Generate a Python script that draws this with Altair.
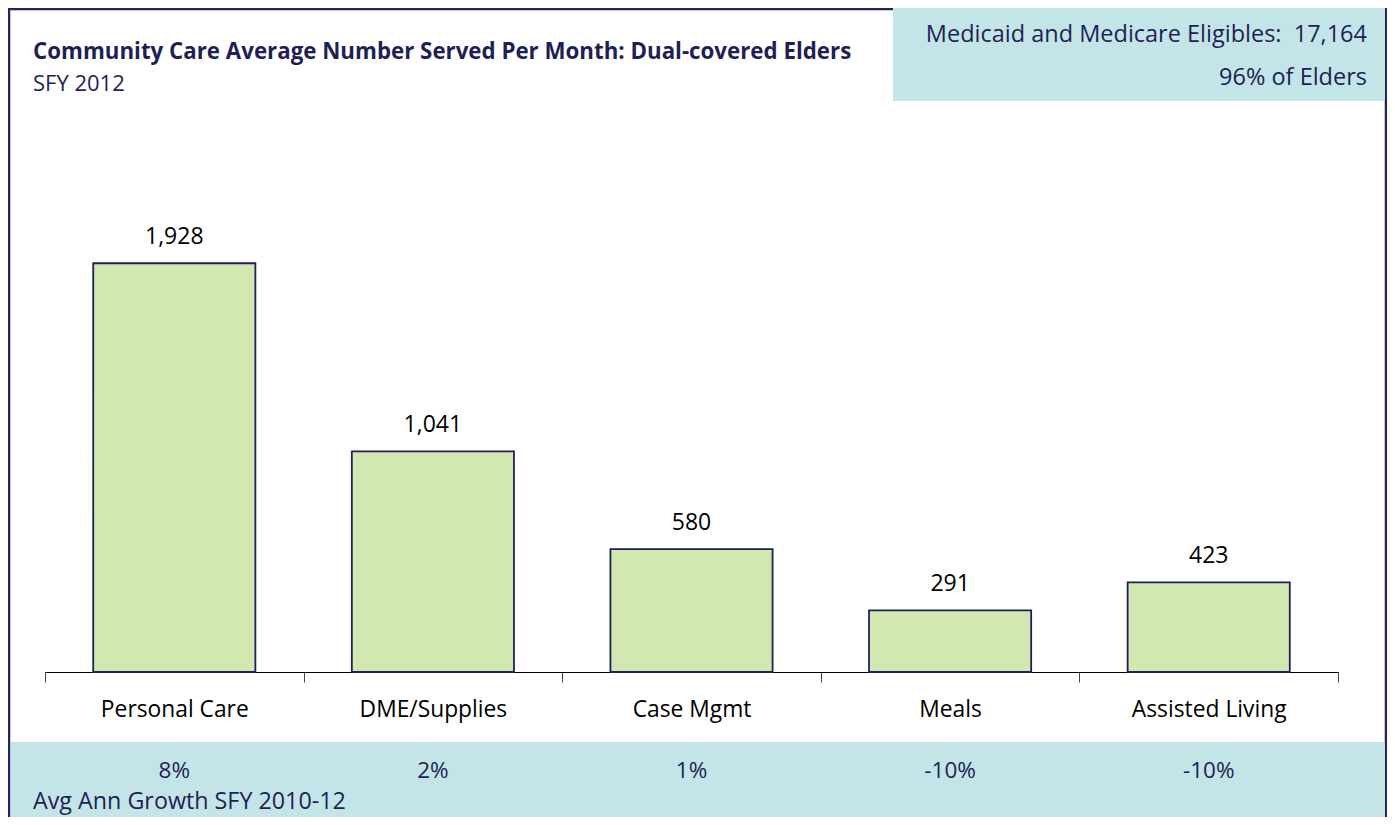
import altair as alt
import pandas as pd

# ---- data ----
categories = ["Personal Care", "DME/Supplies", "Case Mgmt", "Meals", "Assisted Living"]
served = [1928, 1041, 580, 291, 423]
growth = ["8%", "2%", "1%", "-10%", "-10%"]

title_text = "Community Care Average Number Served Per Month: Dual-covered Elders"
subtitle_text = "SFY 2012"
box_line1 = "Medicaid and Medicare Eligibles:\u00a0 17,164"
box_line2 = "96% of Elders"
growth_caption = "Avg Ann Growth SFY 2010-12"

# ---- styling ----
FONT = "Open Sans"
NAVY = "#1f1f55"
BORDER = "#24235e"
TEAL = "#c4e5e8"
BAR_FILL = "#d2e8b0"
BAR_STROKE = "#1f1f5c"

W, H = 1293, 530

df = pd.DataFrame({"category": categories, "served": served, "growth": growth})
df["label"] = [f"{v:,}" for v in served]
one = pd.DataFrame({"k": [0]})

x_enc = alt.X(
    "category:N",
    sort=categories,
    scale=alt.Scale(paddingInner=0, paddingOuter=0),
    axis=alt.Axis(
        title=None,
        labelAngle=0,
        tickBand="extent",
        tickSize=10,
        tickColor="#444444",
        domainColor="#000000",
        domainWidth=1,
        labelFont=FONT,
        labelFontSize=22.8,
        labelColor="#000000",
        labelBaseline="alphabetic",
        labelPadding=34,
        grid=False,
    ),
)
y_enc = alt.Y("served:Q", scale=alt.Scale(domain=[0, 2500], nice=False), axis=None)

deco = alt.Chart(one)

border = deco.mark_rect(fill="white", fillOpacity=0, stroke=BORDER, strokeWidth=2.5).encode(
    x=alt.value(-36), x2=alt.value(1341), y=alt.value(-133), y2=alt.value(690)
)
top_box = deco.mark_rect(fill=TEAL).encode(
    x=alt.value(848), x2=alt.value(1340), y=alt.value(-134), y2=alt.value(-41)
)
bottom_box = deco.mark_rect(fill=TEAL).encode(
    x=alt.value(-34), x2=alt.value(1340), y=alt.value(600), y2=alt.value(700)
)

title = deco.mark_text(
    text=title_text, font=FONT, fontSize=22.3, fontWeight="bold", color=NAVY,
    align="left", baseline="alphabetic",
).encode(x=alt.value(-12), y=alt.value(-83))
subtitle = deco.mark_text(
    text=subtitle_text, font=FONT, fontSize=22, color=NAVY,
    align="left", baseline="alphabetic",
).encode(x=alt.value(-12), y=alt.value(-51))
box1 = deco.mark_text(
    text=box_line1, font=FONT, fontSize=23.5, color=NAVY,
    align="right", baseline="alphabetic",
).encode(x=alt.value(1322), y=alt.value(-100))
box2 = deco.mark_text(
    text=box_line2, font=FONT, fontSize=23.5, color=NAVY,
    align="right", baseline="alphabetic",
).encode(x=alt.value(1322), y=alt.value(-57))
caption = deco.mark_text(
    text=growth_caption, font=FONT, fontSize=23.3, color=NAVY,
    align="left", baseline="alphabetic",
).encode(x=alt.value(-12), y=alt.value(667))

base = alt.Chart(df)

bars = base.mark_bar(
    fill=BAR_FILL, stroke=BAR_STROKE, strokeWidth=1.8, width=alt.RelativeBandSize(0.627)
).encode(x=x_enc, y=y_enc)
values = base.mark_text(
    font=FONT, fontSize=23, color="#000000", align="center", baseline="alphabetic", dy=-19
).encode(x=x_enc, y=y_enc, text="label:N")
growth_text = base.mark_text(
    font=FONT, fontSize=22.5, color=NAVY, align="center", baseline="alphabetic"
).encode(x=x_enc, y=alt.value(636), text="growth:N")

chart = (
    alt.layer(
        border, top_box, bottom_box, bars, values, growth_text,
        title, subtitle, box1, box2, caption,
    )
    .properties(
        width=W,
        height=H,
        autosize=alt.AutoSizeParams(type="none"),
        padding={"left": 37, "top": 134, "right": 49, "bottom": 145},
        background="white",
    )
    .configure_view(stroke=None)
)

chart.save("out.html", embed_options={"renderer": "svg", "actions": False})
